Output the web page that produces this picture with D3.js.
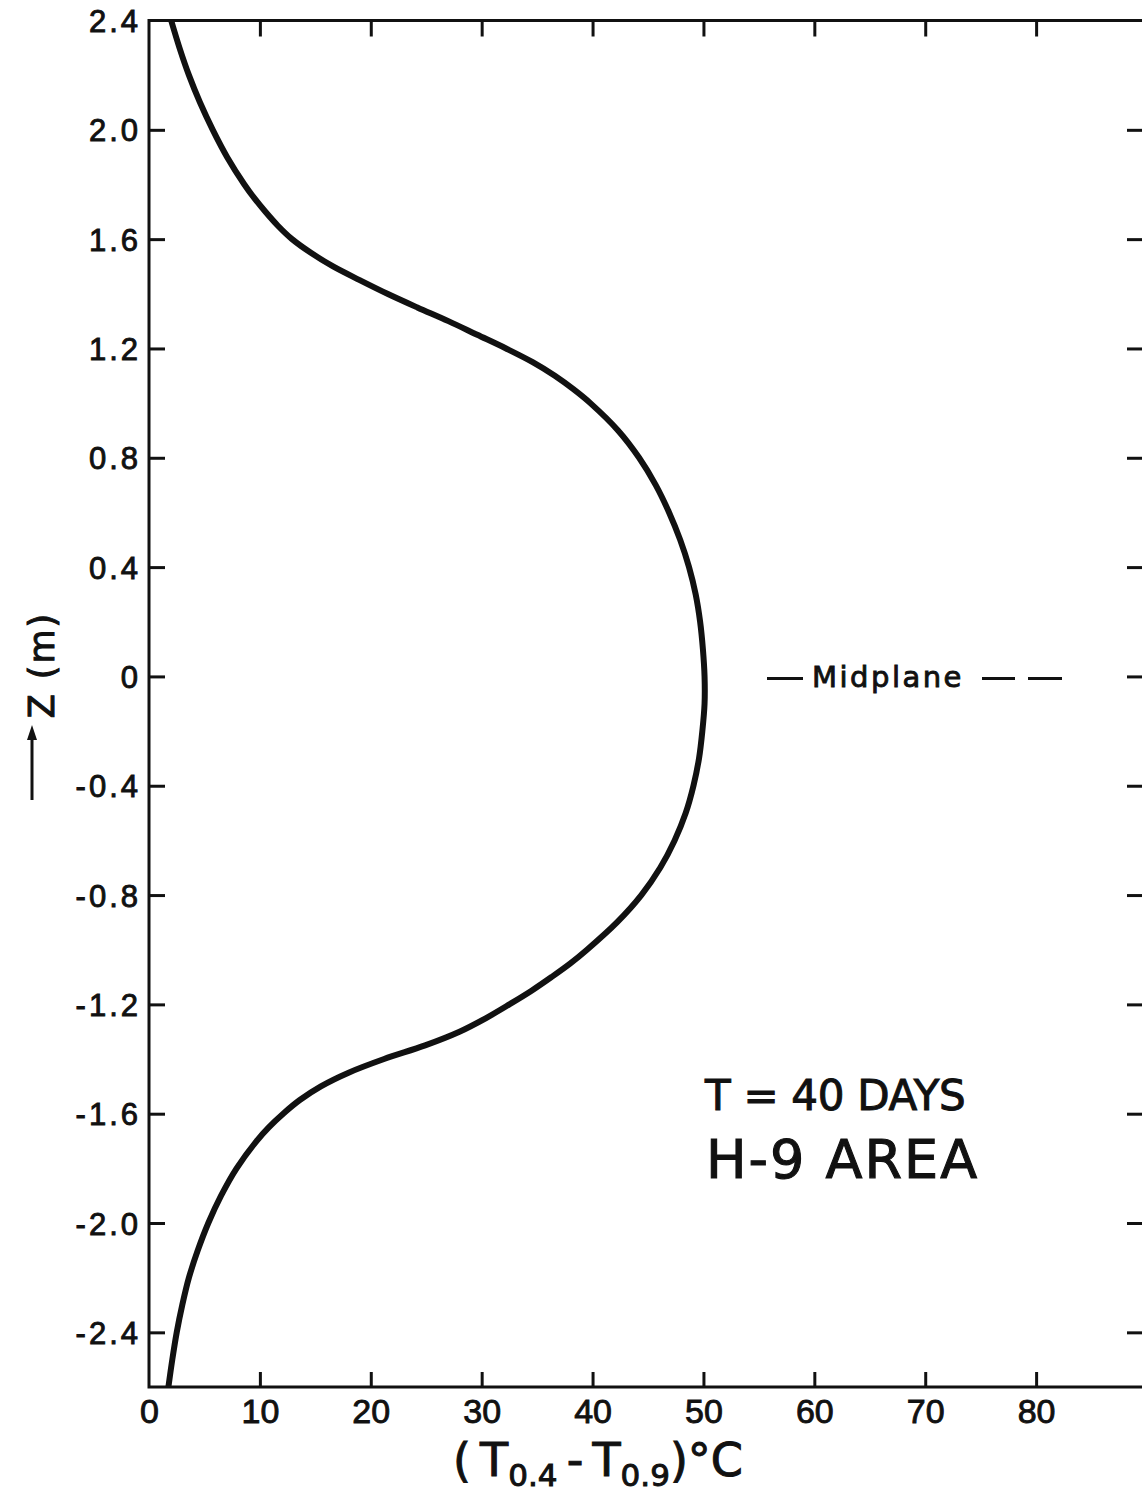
<!DOCTYPE html>
<html>
<head>
<meta charset="utf-8">
<script src="https://cdn.jsdelivr.net/npm/d3@7"></script>
<style>
  html, body { margin: 0; padding: 0; background: #fff; }
  svg { display: block; font-family: "DejaVu Sans", sans-serif; }
  text { paint-order: stroke; }
</style>
</head>
<body>
<svg id="chart" width="1142" height="1495"></svg>
<script>
// Temperature difference profile along the vertical axis (T = 40 days, H-9 area)
const zValues = [2.4, 2.3, 2.2, 2.1, 2.0, 1.9, 1.8, 1.75, 1.7, 1.65, 1.6, 1.55, 1.5, 1.45, 1.4, 1.35, 1.3, 1.25,
  1.2, 1.15, 1.1, 1.05, 1.0, 0.9, 0.8, 0.7, 0.6, 0.5, 0.4, 0.3, 0.2, 0.1, 0,
  -0.1, -0.2, -0.3, -0.4, -0.5, -0.6, -0.7, -0.8, -0.9, -1.0, -1.05, -1.1, -1.15, -1.2, -1.25, -1.3,
  -1.35, -1.4, -1.45, -1.5, -1.55, -1.6, -1.65, -1.7, -1.8, -1.9, -2.0, -2.1, -2.2, -2.3, -2.4, -2.5, -2.6];
const deltaT = [2.0, 2.75, 3.6, 4.6, 5.75, 7.05, 8.6, 9.5, 10.5, 11.6, 12.9, 14.6, 16.6, 19.0, 21.5, 24.2, 27.0, 29.6,
  32.2, 34.6, 36.6, 38.3, 39.8, 42.3, 44.2, 45.7, 46.9, 47.9, 48.7, 49.3, 49.7, 49.95, 50.1,
  50.1, 49.9, 49.6, 49.1, 48.4, 47.4, 46.1, 44.4, 42.2, 39.5, 38.0, 36.3, 34.5, 32.5, 30.4, 28.0,
  24.9, 21.2, 18.0, 15.5, 13.6, 12.1, 10.8, 9.7, 7.9, 6.5, 5.35, 4.4, 3.6, 3.0, 2.5, 2.1, 1.75];

const xTickValues = [0, 10, 20, 30, 40, 50, 60, 70, 80];
const xTickLabels = ["0", "10", "20", "30", "40", "50", "60", "70", "80"];
const yTickValues = [2.4, 2.0, 1.6, 1.2, 0.8, 0.4, 0, -0.4, -0.8, -1.2, -1.6, -2.0, -2.4];
const yTickLabels = ["2.4", "2.0", "1.6", "1.2", "0.8", "0.4", "0", "-0.4", "-0.8", "-1.2", "-1.6", "-2.0", "-2.4"];

const svg = d3.select("#chart");
const plotLeft = 149, plotRight = 1147, plotTop = 20.5, plotBottom = 1387;

const x = d3.scaleLinear().domain([0, 90]).range([plotLeft, plotRight]);
const y = d3.scaleLinear().domain([-2.6, 2.4]).range([plotBottom, plotTop]);

const ink = "#111";

// heavier pen for lettering
function pen(sel, w) {
  return sel.attr("fill", ink).attr("stroke", ink).attr("stroke-width", w);
}

// frame
svg.append("rect")
  .attr("x", plotLeft).attr("y", plotTop)
  .attr("width", plotRight - plotLeft).attr("height", plotBottom - plotTop)
  .attr("fill", "none").attr("stroke", ink).attr("stroke-width", 3);

function styleAxis(g) {
  g.select(".domain").remove();
  g.selectAll(".tick line").attr("stroke", ink).attr("stroke-width", 3);
}

const innerY = yTickValues.filter(v => v < 2.4 && v > -2.6);
const innerX = xTickValues.filter(v => v > 0).concat([90]);

// left axis with labels
const yLabel = d => yTickLabels[yTickValues.indexOf(d)];
svg.append("g")
  .attr("transform", `translate(${plotLeft},0)`)
  .call(d3.axisLeft(y).tickValues(yTickValues).tickSize(-16).tickPadding(8).tickFormat(yLabel))
  .call(styleAxis)
  .call(g => g.selectAll(".tick").filter(d => d === 2.4).select("line").remove())
  .call(g => g.selectAll(".tick text")
    .attr("font-size", 31).attr("letter-spacing", 3).attr("dy", "0.36em")
    .call(pen, 0.9));

// right axis ticks
svg.append("g")
  .attr("transform", `translate(${plotRight},0)`)
  .call(d3.axisRight(y).tickValues(innerY).tickSize(-20).tickFormat(""))
  .call(styleAxis);

// bottom axis with labels
const xLabel = d => xTickLabels[xTickValues.indexOf(d)];
svg.append("g")
  .attr("transform", `translate(0,${plotBottom})`)
  .call(d3.axisBottom(x).tickValues(xTickValues).tickSize(-15).tickPadding(12).tickFormat(xLabel))
  .call(styleAxis)
  .call(g => g.selectAll(".tick").filter(d => d === 0).select("line").remove())
  .call(g => g.selectAll(".tick text").attr("font-size", 34).call(pen, 0.9));

// top axis ticks
svg.append("g")
  .attr("transform", `translate(0,${plotTop})`)
  .call(d3.axisTop(x).tickValues(innerX).tickSize(-16).tickFormat(""))
  .call(styleAxis);

// profile curve
const points = zValues.map((z, i) => [deltaT[i], z]);
const line = d3.line()
  .x(d => x(d[0]))
  .y(d => y(d[1]))
  .curve(d3.curveCatmullRom.alpha(0.5));

svg.append("path")
  .datum(points)
  .attr("d", line)
  .attr("fill", "none")
  .attr("stroke", ink)
  .attr("stroke-width", 6)
  .attr("stroke-linejoin", "round");

// midplane annotation
const y0 = y(0) + 2;
svg.append("line").attr("x1", 767).attr("x2", 803).attr("y1", y0).attr("y2", y0)
  .attr("stroke", ink).attr("stroke-width", 3);
svg.append("text").attr("x", 812).attr("y", y0 + 9)
  .attr("font-size", 29).attr("letter-spacing", 2.5).call(pen, 0.9).text("Midplane");
[[982, 1015], [1028, 1062]].forEach(([a, b]) => {
  svg.append("line").attr("x1", a).attr("x2", b).attr("y1", y0).attr("y2", y0)
    .attr("stroke", ink).attr("stroke-width", 3);
});

// case annotation
svg.append("text").attr("x", 705).attr("y", 1110)
  .attr("font-size", 42).attr("letter-spacing", -0.3).call(pen, 1).text("T = 40 DAYS");
svg.append("text").attr("x", 706).attr("y", 1178)
  .attr("font-size", 54).attr("letter-spacing", 2).call(pen, 1.1).text("H-9 AREA");

// x axis title
const xt = svg.append("text").attr("x", 598).attr("y", 1476)
  .attr("text-anchor", "middle").attr("font-size", 46).call(pen, 1);
xt.append("tspan").text("(\u2009T");
xt.append("tspan").attr("font-size", 31).attr("dy", 10).text("0.4");
xt.append("tspan").attr("dy", -10).text("\u2009-\u2009T");
xt.append("tspan").attr("font-size", 31).attr("dy", 10).text("0.9");
xt.append("tspan").attr("dy", -10).text(")°C");

// y axis title with upward arrow
svg.append("text")
  .attr("transform", "translate(54,665) rotate(-90)")
  .attr("text-anchor", "middle")
  .attr("font-size", 35).attr("letter-spacing", 2).call(pen, 1)
  .text("Z (m)");
svg.append("line").attr("x1", 32).attr("x2", 32).attr("y1", 800).attr("y2", 736)
  .attr("stroke", ink).attr("stroke-width", 3);
svg.append("path")
  .attr("d", "M32,725 L27,740 L37,740 Z")
  .attr("fill", ink);
</script>
</body>
</html>
